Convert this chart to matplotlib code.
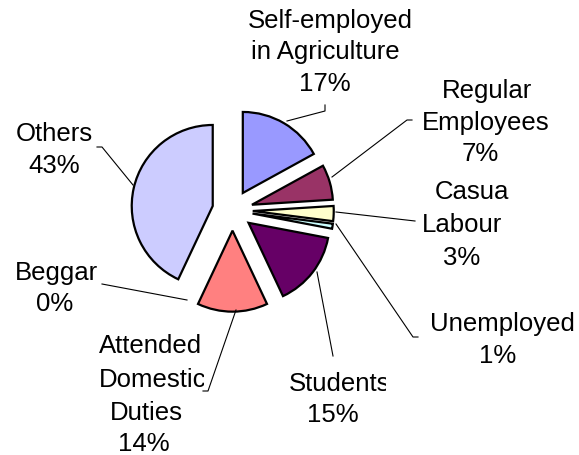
import matplotlib
matplotlib.use("Agg")
import matplotlib.pyplot as plt
from matplotlib.transforms import Bbox, TransformedBbox

W, H = 579, 456

categories = ["Self-employed\nin Agriculture", "Regular\nEmployees", "Casual\nLabour",
              "Unemployed", "Students", "Attended\nDomestic\nDuties", "Beggar", "Others"]
shares = [17, 7, 3, 1, 15, 14, 0, 43]
colors = ["#9999FF", "#993366", "#FFFFCC", "#CCFFFF", "#660066", "#FF8080", "#0066CC", "#CCCCFF"]

# label layout in image pixels (x centre, baseline y from top), one entry per text line
line_pos = [
    [(330, 28), (325, 59), (325, 91)],
    [(487, 98), (486, 130), (480, 161)],
    [(475, 199), (462, 232), (462, 265)],
    [(502, 331), (498, 363)],
    [(340, 391), (333, 422)],
    [(151, 353), (153, 387), (146, 420), (144, 451)],
    [(56, 280), (55, 311)],
    [(54, 141), (54, 173)],
]
# right edge where a line is cut off in the original text box
clip_right = [None, None, 509, None, 386, 204, None, None]
leaders = [
    [(287, 122), (325, 112), (325, 106)],
    [(332, 178), (407, 121), (412, 121)],
    [(336, 213), (415, 222)],
    [(336, 225), (413, 338), (418, 338)],
    [(317, 273), (333, 357)],
    [(236, 311), (208, 392), (203, 392)],
    [(187, 301), (102, 285)],
    [(133, 186), (102, 148), (97, 148)],
]

plt.rcParams["font.family"] = ["Liberation Sans", "DejaVu Sans"]

fig = plt.figure(figsize=(W / 100, H / 100), dpi=100)
ax = fig.add_axes([0, 0, 1, 1])

radius = 81
wedges, _ = ax.pie(shares, colors=colors, startangle=90, counterclock=False,
                   explode=[0.25 * radius] * len(shares), radius=radius,
                   center=(232.5, H - 211.4), frame=True,
                   wedgeprops=dict(edgecolor="black", linewidth=1.6))
for w, v in zip(wedges, shares):
    if v == 0:
        w.set_linewidth(0)
ax.set_xlim(0, W)
ax.set_ylim(0, H)
ax.axis("off")

for name, val, pos, xc, pts in zip(categories, shares, line_pos, clip_right, leaders):
    lines = name.split("\n") + [f"{val}%"]
    for txt, (x, y) in zip(lines, pos):
        t = ax.text(x, H - y, txt, ha="center", va="baseline", fontsize=18.5, color="black")
        if xc is not None:
            t.set_clip_on(True)
            t.set_clip_box(TransformedBbox(Bbox.from_extents(0, 0, xc, H), ax.transData))
    ax.plot([p[0] for p in pts], [H - p[1] for p in pts], color="black", lw=0.8)

fig.savefig("out.png", dpi=100)
